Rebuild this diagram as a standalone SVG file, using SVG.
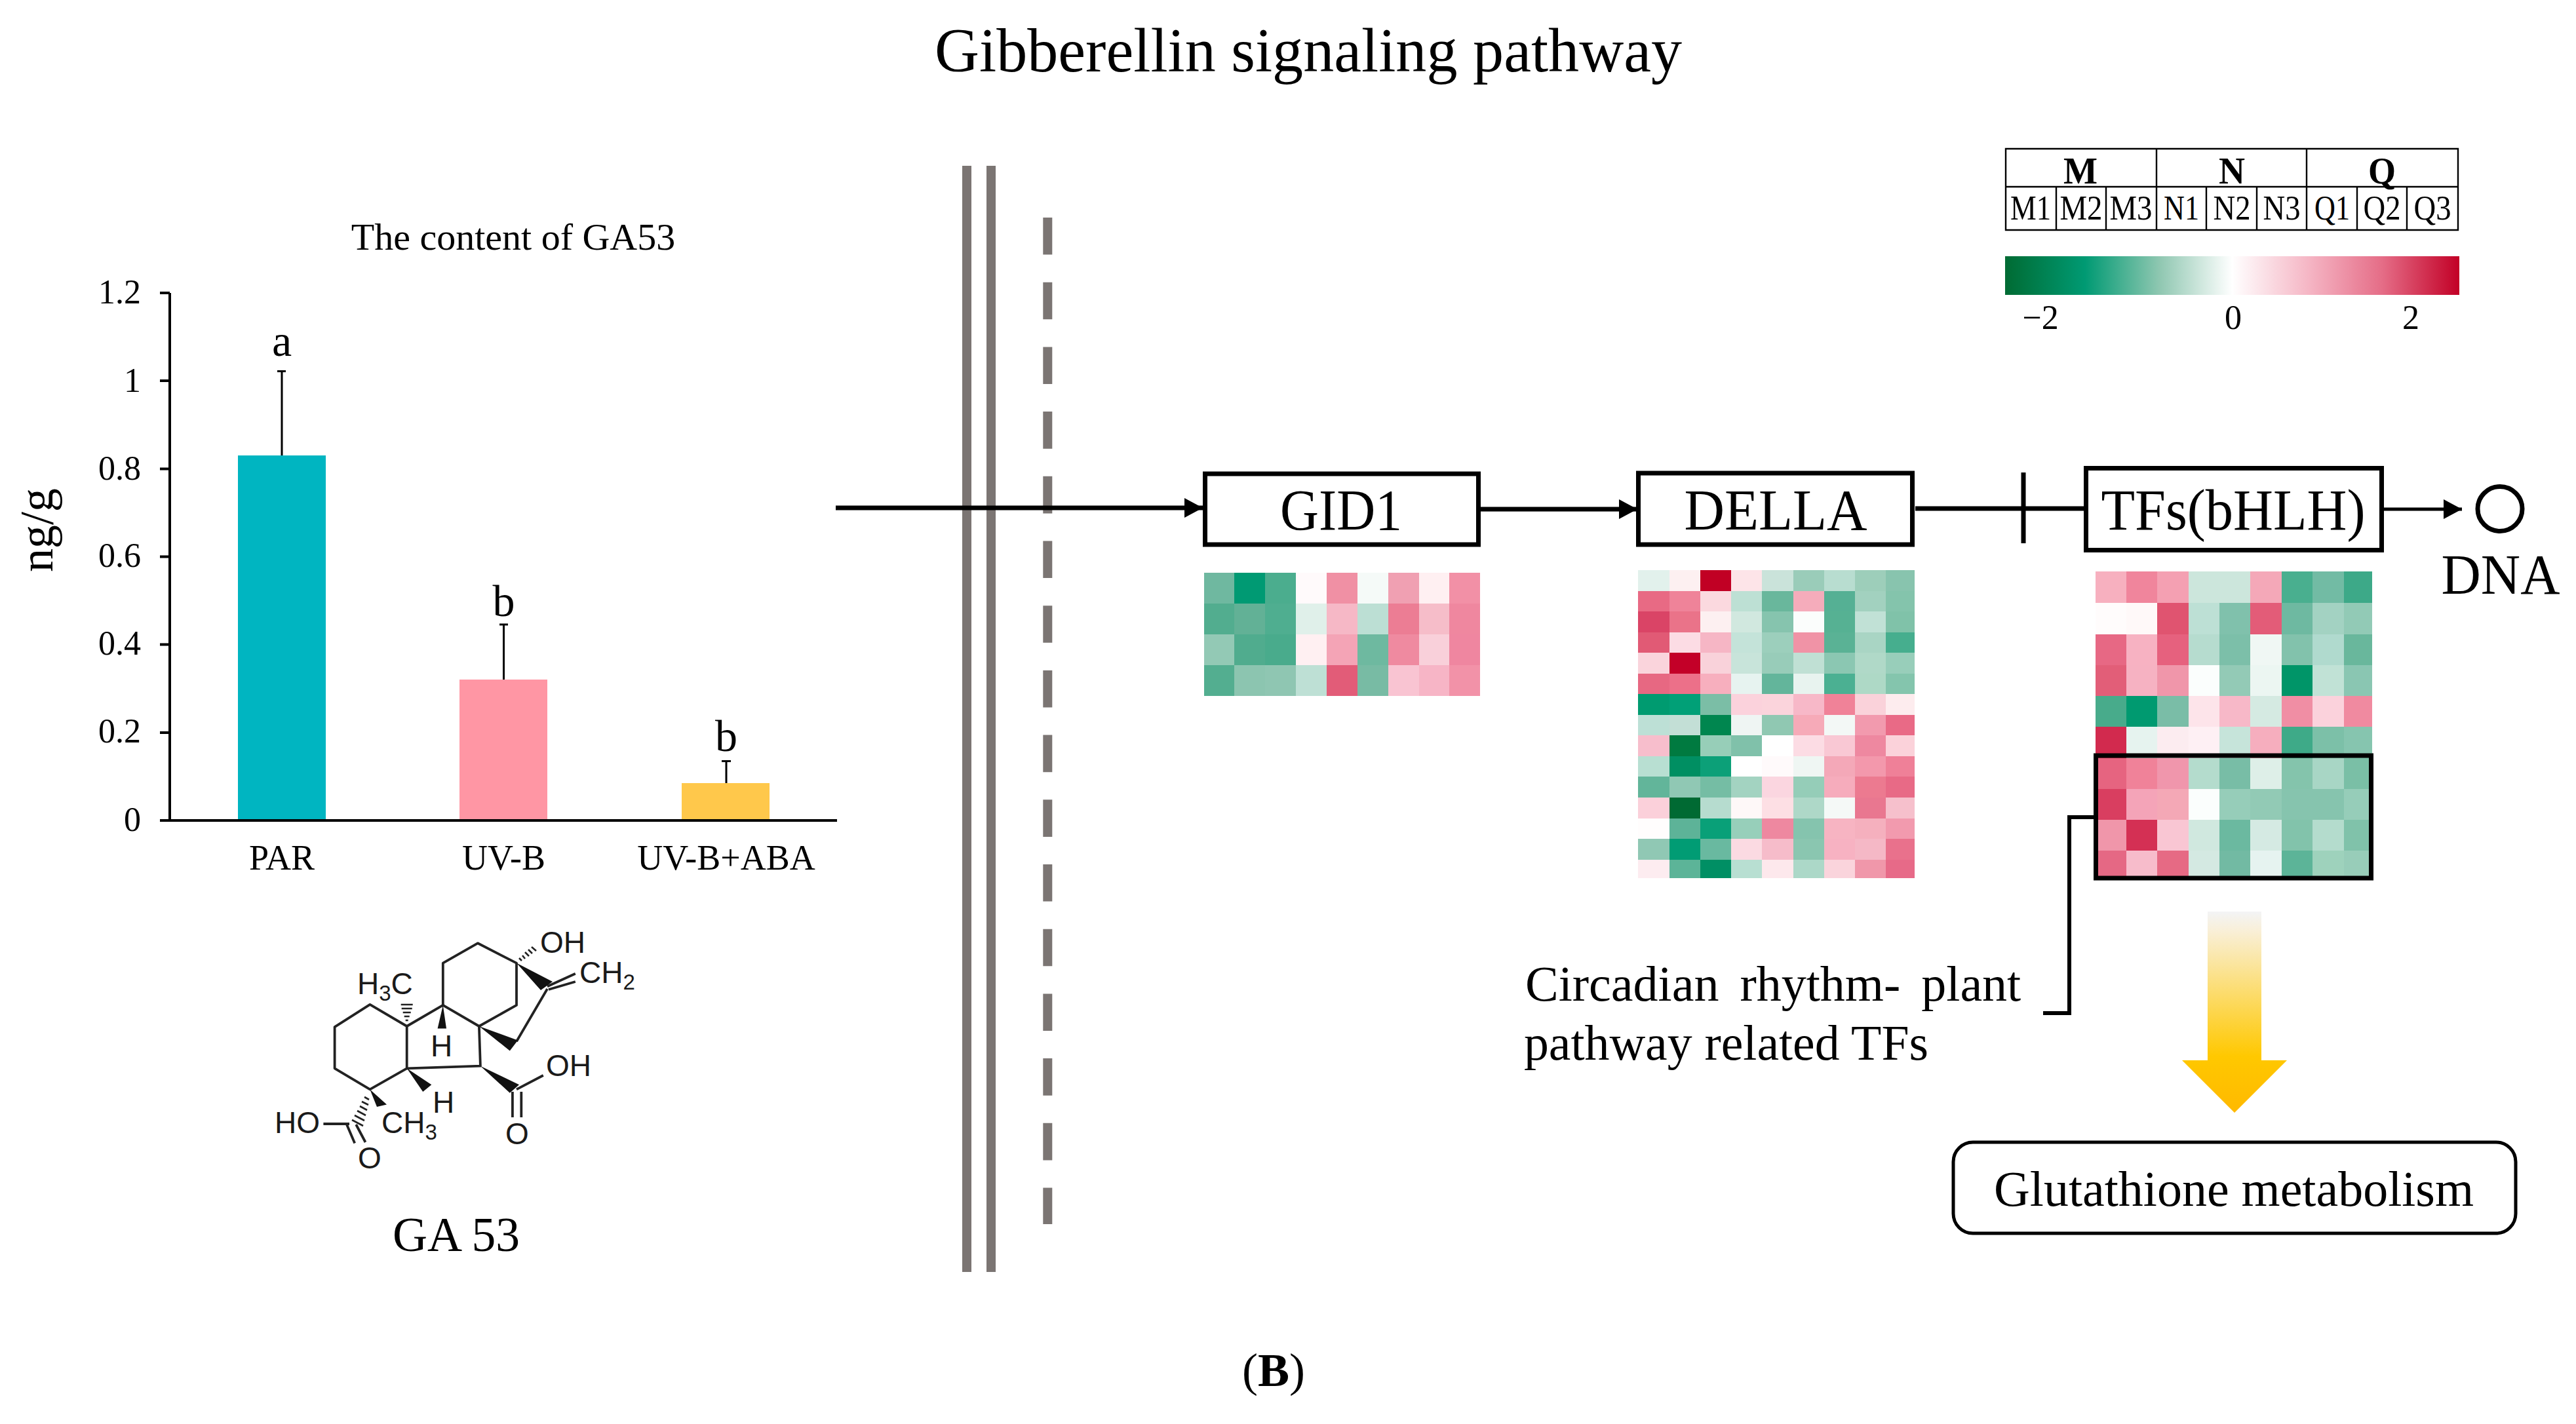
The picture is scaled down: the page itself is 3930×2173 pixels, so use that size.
<svg xmlns="http://www.w3.org/2000/svg" width="3930" height="2173" viewBox="0 0 3930 2173">
<style>
text{font-family:"Liberation Serif","Times New Roman",serif;fill:#000}
.mol{font-family:"Liberation Sans",Arial,sans-serif;font-size:46px;fill:#1a1a1a}
.sub{font-size:33px}
.bond{stroke:#222;stroke-width:3.8;fill:none;stroke-linejoin:round}
.wedge{fill:#111;stroke:none}
.hash{stroke:#222;stroke-width:2.6}
.box{fill:#fff;stroke:#000;stroke-width:7}
.node{font-size:88px;text-anchor:middle}
.wall{fill:#7b7573}
.tick{font-size:52px;text-anchor:end}
.cat{font-size:54px;text-anchor:middle}
.sig{font-size:68px;text-anchor:middle}
.err{stroke:#000;stroke-width:3;fill:none}
.ax{stroke:#000;stroke-width:4;fill:none}
.cell{font-size:52px;text-anchor:middle}
.grp{font-size:58px;font-weight:bold;text-anchor:middle}
.grid{stroke:#000;stroke-width:2.4;fill:none}
.cb{font-size:52px;text-anchor:middle}
.conn{stroke:#000;stroke-width:7;fill:none}
.lbl{font-size:76px}
</style>
<defs>
<marker id="ah" markerUnits="userSpaceOnUse" markerWidth="28" markerHeight="30" refX="28" refY="15" orient="auto"><path d="M0 0L28 15L0 30Z" fill="#000"/></marker>
<linearGradient id="cbg" x1="0" x2="1" y1="0" y2="0">
<stop offset="0" stop-color="#006b33"/><stop offset=".176" stop-color="#009a73"/><stop offset=".34" stop-color="#8fc7b1"/><stop offset=".5" stop-color="#fff"/><stop offset=".67" stop-color="#f5b5c4"/><stop offset=".83" stop-color="#e56d87"/><stop offset="1" stop-color="#c20026"/>
</linearGradient>
<linearGradient id="ag" x1="0" x2="0" y1="0" y2="1"><stop offset="0" stop-color="#f3f4f6"/><stop offset=".1" stop-color="#f9efd6"/><stop offset=".72" stop-color="#ffc800"/><stop offset="1" stop-color="#ffb900"/></linearGradient>
</defs>
<rect width="3930" height="2173" fill="#fff"/>
<text id="title" x="1996" y="109" font-size="96" text-anchor="middle" textLength="1140" lengthAdjust="spacingAndGlyphs">Gibberellin signaling pathway</text>
<g id="chart">
<text x="783" y="381" font-size="58" text-anchor="middle">The content of GA53</text>
<rect x="363" y="695" width="134" height="557" fill="#00b5c1"/>
<rect x="701" y="1037" width="134" height="215" fill="#ff96a4"/>
<rect x="1040" y="1195" width="134" height="57" fill="#ffc84b"/>
<path class="err" d="M430 695V566.5M423 566.5H436M768.5 1037V953M762 953H775M1108 1195V1161.5M1101 1161.5H1115"/>
<path class="ax" d="M259 447V1252M244 447H259M244 581H259M244 715.500H259M244 849.500H259M244 983.500H259M244 1118H259M244 1252H1277"/>
<g>
<text class="tick" x="215" y="463">1.2</text><text class="tick" x="215" y="597.500">1</text><text class="tick" x="215" y="732">0.8</text><text class="tick" x="215" y="865">0.6</text><text class="tick" x="215" y="999">0.4</text><text class="tick" x="215" y="1133">0.2</text><text class="tick" x="215" y="1268">0</text>
</g>
<text transform="translate(80 809) rotate(-90)" font-size="72" text-anchor="middle">ng/g</text>
<text class="sig" x="430" y="543">a</text><text class="sig" x="768.500" y="940">b</text><text class="sig" x="1108" y="1146">b</text>
<text class="cat" x="430" y="1327">PAR</text><text class="cat" x="768.500" y="1327">UV-B</text><text class="cat" x="1108" y="1327">UV-B+ABA</text>
</g>
<g id="molecule">
<path class="bond" d="M510.600 1567.100L564.400 1532.800L620.700 1566L620.700 1630.300L564.400 1662.400L510.600 1630.300Z"/>
<path class="bond" d="M620.700 1566L675.800 1533.900L730.900 1566L732.900 1626.700L620.700 1630.300"/>
<path class="bond" d="M675.800 1533.900V1469.600L728.800 1439.300L788 1469.600V1533.900L730.900 1566"/>
<path class="bond" d="M835 1509L788 1589.200M835 1505.300L877.800 1485.700M837 1510L877.800 1498M788 1662.400L828.800 1641M781.900 1666V1705M795.300 1666V1705M493.400 1715H533M529 1716L541.200 1744.500M543.200 1716L557.500 1743"/>
<path class="wedge" d="M788 1469.600L825 1511L843 1498ZM730.900 1566L777.800 1603.500L790 1587.400ZM675.800 1533.900L667.600 1569.600H681ZM620.700 1630.300L645.200 1666L658.300 1655.300ZM732.900 1626.700L777.800 1667.800L792 1655.300ZM564.400 1662.400L575 1689L590 1685.600Z"/>
<path class="hash" d="M618.700 1557H622.700M616.700 1551H624.700M614.700 1545H626.700M612.700 1539H628.700M611.700 1533H629.700M792 1462L796 1466M797 1458L801 1463M801 1453L807 1459M806 1449L812 1455M811 1445L818 1451M556 1674L563 1678M552 1681L562 1686M549 1688L560 1694M545 1695L558 1702M541 1702L556 1710M537 1709L554 1718"/>
<text class="mol" x="824" y="1454">OH</text>
<text class="mol" x="884" y="1500">CH<tspan class="sub" dy="10">2</tspan></text>
<text class="mol" x="545" y="1517">H<tspan class="sub" dy="10">3</tspan><tspan dy="-10">C</tspan></text>
<text class="mol" x="657" y="1612">H</text>
<text class="mol" x="660" y="1698">H</text>
<text class="mol" x="833" y="1642">OH</text>
<text class="mol" x="771" y="1746">O</text>
<text class="mol" x="419" y="1729">HO</text>
<text class="mol" x="582" y="1729">CH<tspan class="sub" dy="10">3</tspan></text>
<text class="mol" x="546" y="1783">O</text>
<text x="696" y="1909" font-size="75" text-anchor="middle" textLength="194" lengthAdjust="spacingAndGlyphs">GA 53</text>
</g>
<g id="walls">
<rect class="wall" x="1468" y="253" width="14" height="1688"/>
<rect class="wall" x="1505" y="253" width="14" height="1688"/>
<path d="M1598.300 332V1868" stroke="#7b7573" stroke-width="14" stroke-dasharray="56.600 42.100" fill="none"/>
</g>
<g id="connectors">
<path class="conn" d="M1275 775H1835" marker-end="url(#ah)"/>
<path class="conn" d="M2259 777H2498" marker-end="url(#ah)"/>
<path class="conn" d="M2922 776H3179"/>
<path class="conn" d="M3087 721V829"/>
<path class="conn" style="stroke-width:5" d="M3637 777H3756" marker-end="url(#ah)"/>
<path class="conn" style="stroke-width:6" d="M3197 1247H3157V1546H3117"/>
</g>
<g id="hm-gid1" shape-rendering="crispEdges">
<rect x="1837" y="874" width="46" height="47" fill="#6fb8a0"/><rect x="1883" y="874" width="47" height="47" fill="#009a73"/><rect x="1930" y="874" width="47" height="47" fill="#4bad8e"/><rect x="1977" y="874" width="47" height="47" fill="#fffafb"/><rect x="2024" y="874" width="47" height="47" fill="#f090a4"/><rect x="2071" y="874" width="47" height="47" fill="#f5faf8"/><rect x="2118" y="874" width="47" height="47" fill="#f0a0b2"/><rect x="2165" y="874" width="46" height="47" fill="#fff0f2"/><rect x="2211" y="874" width="47" height="47" fill="#f290a6"/>
<rect x="1837" y="921" width="46" height="47" fill="#52ad8f"/><rect x="1883" y="921" width="47" height="47" fill="#62b196"/><rect x="1930" y="921" width="47" height="47" fill="#4fae90"/><rect x="1977" y="921" width="47" height="47" fill="#e0f0ea"/><rect x="2024" y="921" width="47" height="47" fill="#f6b8c6"/><rect x="2071" y="921" width="47" height="47" fill="#bcdfd4"/><rect x="2118" y="921" width="47" height="47" fill="#ec7d94"/><rect x="2165" y="921" width="46" height="47" fill="#f6bdc9"/><rect x="2211" y="921" width="47" height="47" fill="#ef879f"/>
<rect x="1837" y="968" width="46" height="47" fill="#93c9b5"/><rect x="1883" y="968" width="47" height="47" fill="#50ac8e"/><rect x="1930" y="968" width="47" height="47" fill="#49ab8c"/><rect x="1977" y="968" width="47" height="47" fill="#fff0f2"/><rect x="2024" y="968" width="47" height="47" fill="#f4a4b6"/><rect x="2071" y="968" width="47" height="47" fill="#6eb9a0"/><rect x="2118" y="968" width="47" height="47" fill="#ef8aa0"/><rect x="2165" y="968" width="46" height="47" fill="#f9d0da"/><rect x="2211" y="968" width="47" height="47" fill="#ef86a0"/>
<rect x="1837" y="1015" width="46" height="47" fill="#53ae90"/><rect x="1883" y="1015" width="47" height="47" fill="#8cc5b0"/><rect x="1930" y="1015" width="47" height="47" fill="#8fc6b2"/><rect x="1977" y="1015" width="47" height="47" fill="#bee0d5"/><rect x="2024" y="1015" width="47" height="47" fill="#e25c78"/><rect x="2071" y="1015" width="47" height="47" fill="#78bba4"/><rect x="2118" y="1015" width="47" height="47" fill="#f9c4d2"/><rect x="2165" y="1015" width="46" height="47" fill="#f7b5c6"/><rect x="2211" y="1015" width="47" height="47" fill="#f292a8"/>
</g>
<g id="hm-della" shape-rendering="crispEdges">
<rect x="2499" y="870" width="48" height="32" fill="#e2f1ec"/><rect x="2547" y="870" width="47" height="32" fill="#fdf0f1"/><rect x="2594" y="870" width="47" height="32" fill="#c10024"/><rect x="2641" y="870" width="47" height="32" fill="#fde4e8"/><rect x="2688" y="870" width="48" height="32" fill="#cae3da"/><rect x="2736" y="870" width="47" height="32" fill="#9accb9"/><rect x="2783" y="870" width="47" height="32" fill="#b8ddd0"/><rect x="2830" y="870" width="47" height="32" fill="#9dceba"/><rect x="2877" y="870" width="44" height="32" fill="#88c4ae"/>
<rect x="2499" y="902" width="48" height="31" fill="#e86a84"/><rect x="2547" y="902" width="47" height="31" fill="#ef8399"/><rect x="2594" y="902" width="47" height="31" fill="#fbd9df"/><rect x="2641" y="902" width="47" height="31" fill="#bde0d4"/><rect x="2688" y="902" width="48" height="31" fill="#69b79c"/><rect x="2736" y="902" width="47" height="31" fill="#f5acbb"/><rect x="2783" y="902" width="47" height="31" fill="#55b094"/><rect x="2830" y="902" width="47" height="31" fill="#a2d1bf"/><rect x="2877" y="902" width="44" height="31" fill="#84c4ac"/>
<rect x="2499" y="933" width="48" height="32" fill="#da4466"/><rect x="2547" y="933" width="47" height="32" fill="#ea7389"/><rect x="2594" y="933" width="47" height="32" fill="#fdf0f1"/><rect x="2641" y="933" width="47" height="32" fill="#d1e8df"/><rect x="2688" y="933" width="48" height="32" fill="#86c4ae"/><rect x="2736" y="933" width="47" height="32" fill="#fbfdfc"/><rect x="2783" y="933" width="47" height="32" fill="#56b193"/><rect x="2830" y="933" width="47" height="32" fill="#c1e1d6"/><rect x="2877" y="933" width="44" height="32" fill="#80c2a9"/>
<rect x="2499" y="965" width="48" height="31" fill="#e15a75"/><rect x="2547" y="965" width="47" height="31" fill="#fcdce4"/><rect x="2594" y="965" width="47" height="31" fill="#f6b6c5"/><rect x="2641" y="965" width="47" height="31" fill="#c4e3d9"/><rect x="2688" y="965" width="48" height="31" fill="#9ccfbc"/><rect x="2736" y="965" width="47" height="31" fill="#f093a6"/><rect x="2783" y="965" width="47" height="31" fill="#5ab295"/><rect x="2830" y="965" width="47" height="31" fill="#a9d5c4"/><rect x="2877" y="965" width="44" height="31" fill="#46ae8e"/>
<rect x="2499" y="996" width="48" height="32" fill="#fad4dc"/><rect x="2547" y="996" width="47" height="32" fill="#c30028"/><rect x="2594" y="996" width="47" height="32" fill="#f9d2da"/><rect x="2641" y="996" width="47" height="32" fill="#c8e4da"/><rect x="2688" y="996" width="48" height="32" fill="#98ccb9"/><rect x="2736" y="996" width="47" height="32" fill="#c0e0d4"/><rect x="2783" y="996" width="47" height="32" fill="#8bc7b2"/><rect x="2830" y="996" width="47" height="32" fill="#b0d9c8"/><rect x="2877" y="996" width="44" height="32" fill="#98ceba"/>
<rect x="2499" y="1028" width="48" height="31" fill="#e76882"/><rect x="2547" y="1028" width="47" height="31" fill="#ec7089"/><rect x="2594" y="1028" width="47" height="31" fill="#f7afbe"/><rect x="2641" y="1028" width="47" height="31" fill="#e7f3f0"/><rect x="2688" y="1028" width="48" height="31" fill="#63b59b"/><rect x="2736" y="1028" width="47" height="31" fill="#e8f3ef"/><rect x="2783" y="1028" width="47" height="31" fill="#4bb092"/><rect x="2830" y="1028" width="47" height="31" fill="#aed9c6"/><rect x="2877" y="1028" width="44" height="31" fill="#84c5ad"/>
<rect x="2499" y="1059" width="48" height="32" fill="#009b70"/><rect x="2547" y="1059" width="47" height="32" fill="#01a077"/><rect x="2594" y="1059" width="47" height="32" fill="#7bbea6"/><rect x="2641" y="1059" width="47" height="32" fill="#fbd2dc"/><rect x="2688" y="1059" width="48" height="32" fill="#fbd4dc"/><rect x="2736" y="1059" width="47" height="32" fill="#f7b8c8"/><rect x="2783" y="1059" width="47" height="32" fill="#f08298"/><rect x="2830" y="1059" width="47" height="32" fill="#fad2da"/><rect x="2877" y="1059" width="44" height="32" fill="#fdecee"/>
<rect x="2499" y="1091" width="48" height="31" fill="#bde0d6"/><rect x="2547" y="1091" width="47" height="31" fill="#c3dfd6"/><rect x="2594" y="1091" width="47" height="31" fill="#00864f"/><rect x="2641" y="1091" width="47" height="31" fill="#eff5f3"/><rect x="2688" y="1091" width="48" height="31" fill="#90c8b2"/><rect x="2736" y="1091" width="47" height="31" fill="#f6aab8"/><rect x="2783" y="1091" width="47" height="31" fill="#f3f8f6"/><rect x="2830" y="1091" width="47" height="31" fill="#f29aae"/><rect x="2877" y="1091" width="44" height="31" fill="#e96a86"/>
<rect x="2499" y="1122" width="48" height="32" fill="#f7becc"/><rect x="2547" y="1122" width="47" height="32" fill="#007a40"/><rect x="2594" y="1122" width="47" height="32" fill="#97ceb8"/><rect x="2641" y="1122" width="47" height="32" fill="#80c1aa"/><rect x="2688" y="1122" width="48" height="32" fill="#ffffff"/><rect x="2736" y="1122" width="47" height="32" fill="#fcdce4"/><rect x="2783" y="1122" width="47" height="32" fill="#f9c8d4"/><rect x="2830" y="1122" width="47" height="32" fill="#ee88a0"/><rect x="2877" y="1122" width="44" height="32" fill="#fbd2da"/>
<rect x="2499" y="1154" width="48" height="31" fill="#b8dfd2"/><rect x="2547" y="1154" width="47" height="31" fill="#008f62"/><rect x="2594" y="1154" width="47" height="31" fill="#0ca078"/><rect x="2641" y="1154" width="47" height="31" fill="#ffffff"/><rect x="2688" y="1154" width="48" height="31" fill="#fffafb"/><rect x="2736" y="1154" width="47" height="31" fill="#eff6f3"/><rect x="2783" y="1154" width="47" height="31" fill="#f4a8b8"/><rect x="2830" y="1154" width="47" height="31" fill="#f398ac"/><rect x="2877" y="1154" width="44" height="31" fill="#ef8098"/>
<rect x="2499" y="1185" width="48" height="32" fill="#62b59a"/><rect x="2547" y="1185" width="47" height="32" fill="#90c8b4"/><rect x="2594" y="1185" width="47" height="32" fill="#75bda4"/><rect x="2641" y="1185" width="47" height="32" fill="#a3d3c1"/><rect x="2688" y="1185" width="48" height="32" fill="#fbd6e0"/><rect x="2736" y="1185" width="47" height="32" fill="#95cdb8"/><rect x="2783" y="1185" width="47" height="32" fill="#f6acbc"/><rect x="2830" y="1185" width="47" height="32" fill="#ec7a90"/><rect x="2877" y="1185" width="44" height="32" fill="#e86a86"/>
<rect x="2499" y="1217" width="48" height="32" fill="#fbd0da"/><rect x="2547" y="1217" width="47" height="32" fill="#006a33"/><rect x="2594" y="1217" width="47" height="32" fill="#b6dccf"/><rect x="2641" y="1217" width="47" height="32" fill="#fef8f8"/><rect x="2688" y="1217" width="48" height="32" fill="#fddfe4"/><rect x="2736" y="1217" width="47" height="32" fill="#aed8c8"/><rect x="2783" y="1217" width="47" height="32" fill="#f5f9f7"/><rect x="2830" y="1217" width="47" height="32" fill="#e97790"/><rect x="2877" y="1217" width="44" height="32" fill="#f6c0cc"/>
<rect x="2499" y="1249" width="48" height="31" fill="#fffdfd"/><rect x="2547" y="1249" width="47" height="31" fill="#5db398"/><rect x="2594" y="1249" width="47" height="31" fill="#09a078"/><rect x="2641" y="1249" width="47" height="31" fill="#97cfba"/><rect x="2688" y="1249" width="48" height="31" fill="#ee88a0"/><rect x="2736" y="1249" width="47" height="31" fill="#85c4ae"/><rect x="2783" y="1249" width="47" height="31" fill="#f7b4c2"/><rect x="2830" y="1249" width="47" height="31" fill="#f5b0be"/><rect x="2877" y="1249" width="44" height="31" fill="#f29aae"/>
<rect x="2499" y="1280" width="48" height="32" fill="#90c8b4"/><rect x="2547" y="1280" width="47" height="32" fill="#019c74"/><rect x="2594" y="1280" width="47" height="32" fill="#69b9a0"/><rect x="2641" y="1280" width="47" height="32" fill="#fbdae2"/><rect x="2688" y="1280" width="48" height="32" fill="#f6bcca"/><rect x="2736" y="1280" width="47" height="32" fill="#8ac6b0"/><rect x="2783" y="1280" width="47" height="32" fill="#f7b2c2"/><rect x="2830" y="1280" width="47" height="32" fill="#f5b8c6"/><rect x="2877" y="1280" width="44" height="32" fill="#e9718c"/>
<rect x="2499" y="1312" width="48" height="28" fill="#fdecf0"/><rect x="2547" y="1312" width="47" height="28" fill="#5cb498"/><rect x="2594" y="1312" width="47" height="28" fill="#008f64"/><rect x="2641" y="1312" width="47" height="28" fill="#b8dfd2"/><rect x="2688" y="1312" width="48" height="28" fill="#fde8ec"/><rect x="2736" y="1312" width="47" height="28" fill="#acd8c8"/><rect x="2783" y="1312" width="47" height="28" fill="#fad4dc"/><rect x="2830" y="1312" width="47" height="28" fill="#f097aa"/><rect x="2877" y="1312" width="44" height="28" fill="#e76a88"/>
</g>
<g id="hm-tfs" shape-rendering="crispEdges">
<rect x="3197" y="872" width="47" height="48" fill="#f7b0bf"/><rect x="3244" y="872" width="47" height="48" fill="#f0859c"/><rect x="3291" y="872" width="48" height="48" fill="#f4a0b2"/><rect x="3339" y="872" width="47" height="48" fill="#cce6dc"/><rect x="3386" y="872" width="47" height="48" fill="#cce6dc"/><rect x="3433" y="872" width="48" height="48" fill="#f4a8b8"/><rect x="3481" y="872" width="47" height="48" fill="#49af8f"/><rect x="3528" y="872" width="48" height="48" fill="#72bba4"/><rect x="3576" y="872" width="43" height="48" fill="#3da988"/>
<rect x="3197" y="920" width="47" height="48" fill="#fffcfc"/><rect x="3244" y="920" width="47" height="48" fill="#fff9f9"/><rect x="3291" y="920" width="48" height="48" fill="#e05470"/><rect x="3339" y="920" width="47" height="48" fill="#bde0d5"/><rect x="3386" y="920" width="47" height="48" fill="#80c1ac"/><rect x="3433" y="920" width="48" height="48" fill="#e35c78"/><rect x="3481" y="920" width="47" height="48" fill="#6eb9a1"/><rect x="3528" y="920" width="48" height="48" fill="#a3d2c2"/><rect x="3576" y="920" width="43" height="48" fill="#92cab6"/>
<rect x="3197" y="968" width="47" height="47" fill="#e76884"/><rect x="3244" y="968" width="47" height="47" fill="#f7b2c2"/><rect x="3291" y="968" width="48" height="47" fill="#e6617e"/><rect x="3339" y="968" width="47" height="47" fill="#b6dccf"/><rect x="3386" y="968" width="47" height="47" fill="#7cbfa9"/><rect x="3433" y="968" width="48" height="47" fill="#f0f7f4"/><rect x="3481" y="968" width="47" height="47" fill="#82c2ac"/><rect x="3528" y="968" width="48" height="47" fill="#b0dace"/><rect x="3576" y="968" width="43" height="47" fill="#69b79c"/>
<rect x="3197" y="1015" width="47" height="47" fill="#e25e78"/><rect x="3244" y="1015" width="47" height="47" fill="#f6b2c2"/><rect x="3291" y="1015" width="48" height="47" fill="#f096aa"/><rect x="3339" y="1015" width="47" height="47" fill="#fbfefd"/><rect x="3386" y="1015" width="47" height="47" fill="#93cab6"/><rect x="3433" y="1015" width="48" height="47" fill="#ecf6f2"/><rect x="3481" y="1015" width="47" height="47" fill="#009568"/><rect x="3528" y="1015" width="48" height="47" fill="#c1e2d6"/><rect x="3576" y="1015" width="43" height="47" fill="#8ac6b2"/>
<rect x="3197" y="1062" width="47" height="47" fill="#48ab8b"/><rect x="3244" y="1062" width="47" height="47" fill="#009a70"/><rect x="3291" y="1062" width="48" height="47" fill="#7abda7"/><rect x="3339" y="1062" width="47" height="47" fill="#fde4ea"/><rect x="3386" y="1062" width="47" height="47" fill="#f7b8c8"/><rect x="3433" y="1062" width="48" height="47" fill="#d5eae2"/><rect x="3481" y="1062" width="47" height="47" fill="#f08ea4"/><rect x="3528" y="1062" width="48" height="47" fill="#fbd2dc"/><rect x="3576" y="1062" width="43" height="47" fill="#f08aa0"/>
<rect x="3197" y="1109" width="47" height="48" fill="#d22a4e"/><rect x="3244" y="1109" width="47" height="48" fill="#e6f3ef"/><rect x="3291" y="1109" width="48" height="48" fill="#fcecf0"/><rect x="3339" y="1109" width="47" height="48" fill="#fef0f4"/><rect x="3386" y="1109" width="47" height="48" fill="#c6e4da"/><rect x="3433" y="1109" width="48" height="48" fill="#f6aebe"/><rect x="3481" y="1109" width="47" height="48" fill="#3eaa88"/><rect x="3528" y="1109" width="48" height="48" fill="#7cc0a8"/><rect x="3576" y="1109" width="43" height="48" fill="#86c5af"/>
<rect x="3197" y="1157" width="47" height="47" fill="#e66480"/><rect x="3244" y="1157" width="47" height="47" fill="#f08299"/><rect x="3291" y="1157" width="48" height="47" fill="#f096ac"/><rect x="3339" y="1157" width="47" height="47" fill="#b4dccd"/><rect x="3386" y="1157" width="47" height="47" fill="#78bda6"/><rect x="3433" y="1157" width="48" height="47" fill="#deefe8"/><rect x="3481" y="1157" width="47" height="47" fill="#84c4ac"/><rect x="3528" y="1157" width="48" height="47" fill="#a8d6c5"/><rect x="3576" y="1157" width="43" height="47" fill="#7abfa6"/>
<rect x="3197" y="1204" width="47" height="47" fill="#d93e60"/><rect x="3244" y="1204" width="47" height="47" fill="#f4a4b8"/><rect x="3291" y="1204" width="48" height="47" fill="#f4a8b6"/><rect x="3339" y="1204" width="47" height="47" fill="#fbfefd"/><rect x="3386" y="1204" width="47" height="47" fill="#96cdb9"/><rect x="3433" y="1204" width="48" height="47" fill="#92cab5"/><rect x="3481" y="1204" width="47" height="47" fill="#86c4ae"/><rect x="3528" y="1204" width="48" height="47" fill="#86c4ae"/><rect x="3576" y="1204" width="43" height="47" fill="#96cdb9"/>
<rect x="3197" y="1251" width="47" height="47" fill="#f096aa"/><rect x="3244" y="1251" width="47" height="47" fill="#d43054"/><rect x="3291" y="1251" width="48" height="47" fill="#f9c6d3"/><rect x="3339" y="1251" width="47" height="47" fill="#d0e8df"/><rect x="3386" y="1251" width="47" height="47" fill="#6bb9a0"/><rect x="3433" y="1251" width="48" height="47" fill="#d5eae3"/><rect x="3481" y="1251" width="47" height="47" fill="#82c3ab"/><rect x="3528" y="1251" width="48" height="47" fill="#b4dccd"/><rect x="3576" y="1251" width="43" height="47" fill="#80c2aa"/>
<rect x="3197" y="1298" width="47" height="39" fill="#e56884"/><rect x="3244" y="1298" width="47" height="39" fill="#f7bccb"/><rect x="3291" y="1298" width="48" height="39" fill="#e66a84"/><rect x="3339" y="1298" width="47" height="39" fill="#d4e9e2"/><rect x="3386" y="1298" width="47" height="39" fill="#72baa3"/><rect x="3433" y="1298" width="48" height="39" fill="#e6f3f0"/><rect x="3481" y="1298" width="47" height="39" fill="#5cb498"/><rect x="3528" y="1298" width="48" height="39" fill="#9ed2bc"/><rect x="3576" y="1298" width="43" height="39" fill="#98cdb9"/>
</g>
<g id="hm-highlight"><rect x="3197.500" y="1153" width="420" height="187" fill="none" stroke="#000" stroke-width="7"/></g>
<g id="node-gid1"><rect class="box" x="1838.500" y="723" width="417" height="108"/><text class="node" x="2046" y="808" textLength="186" lengthAdjust="spacingAndGlyphs">GID1</text></g>
<g id="node-della"><rect class="box" x="2499.500" y="722" width="418" height="109"/><text class="node" x="2709" y="808" textLength="279" lengthAdjust="spacingAndGlyphs">DELLA</text></g>
<g id="node-tfs"><rect class="box" x="3182.500" y="714.500" width="451" height="125"/><text class="node" x="3407" y="808" textLength="403" lengthAdjust="spacingAndGlyphs">TFs(bHLH)</text></g>
<g id="node-dna"><circle cx="3814" cy="776.500" r="34" fill="#fff" stroke="#000" stroke-width="7"/><text x="3815" y="906" font-size="87" text-anchor="middle" textLength="181" lengthAdjust="spacingAndGlyphs">DNA</text></g>
<g id="legend">
<path class="grid" d="M3060 227H3750V351H3060ZM3060 285H3750M3290 227V351M3519 227V351M3137 285V351M3213 285V351M3366 285V351M3443 285V351M3596 285V351M3672 285V351"/>
<text class="grp" x="3174" y="280" textLength="52" lengthAdjust="spacingAndGlyphs">M</text><text class="grp" x="3405" y="280" textLength="40" lengthAdjust="spacingAndGlyphs">N</text><text class="grp" x="3634" y="280" textLength="42" lengthAdjust="spacingAndGlyphs">Q</text>
<text class="cell" x="3098" y="335" textLength="62" lengthAdjust="spacingAndGlyphs">M1</text><text class="cell" x="3175" y="335" textLength="65" lengthAdjust="spacingAndGlyphs">M2</text><text class="cell" x="3251" y="335" textLength="65" lengthAdjust="spacingAndGlyphs">M3</text><text class="cell" x="3328" y="335" textLength="54" lengthAdjust="spacingAndGlyphs">N1</text><text class="cell" x="3405" y="335" textLength="57" lengthAdjust="spacingAndGlyphs">N2</text><text class="cell" x="3481" y="335" textLength="57" lengthAdjust="spacingAndGlyphs">N3</text><text class="cell" x="3558" y="335" textLength="54" lengthAdjust="spacingAndGlyphs">Q1</text><text class="cell" x="3634" y="335" textLength="57" lengthAdjust="spacingAndGlyphs">Q2</text><text class="cell" x="3711" y="335" textLength="57" lengthAdjust="spacingAndGlyphs">Q3</text>
<rect x="3059" y="391" width="693" height="59" fill="url(#cbg)"/>
<text class="cb" x="3113" y="502">−2</text><text class="cb" x="3407" y="502">0</text><text class="cb" x="3678" y="502">2</text>
</g>
<g id="tf-label">
<text class="lbl" x="2327" y="1527" word-spacing="13">Circadian rhythm- plant</text>
<text class="lbl" x="2325" y="1617" textLength="617" lengthAdjust="spacingAndGlyphs">pathway related TFs</text>
</g>
<path id="flow-arrow" d="M3368 1391H3450V1618H3489L3409 1698L3329 1618H3368Z" fill="url(#ag)"/>
<g id="node-glutathione"><rect x="2980" y="1743" width="858" height="139" rx="30" fill="#fff" stroke="#000" stroke-width="5"/><text x="3408" y="1840" font-size="77" text-anchor="middle" textLength="732" lengthAdjust="spacingAndGlyphs">Glutathione metabolism</text></g>
<text id="panel" x="1943" y="2115" font-size="72" text-anchor="middle">(<tspan font-weight="bold">B</tspan>)</text>
</svg>
